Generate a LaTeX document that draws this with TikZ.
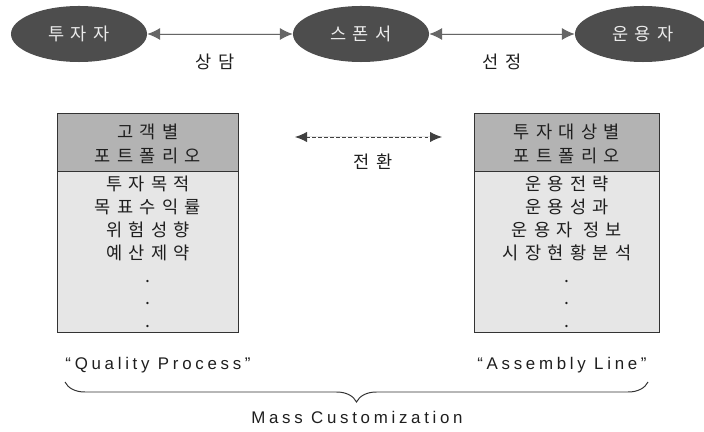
\documentclass[tikz,border=0pt]{standalone}
\usepackage{fontspec}
\setmainfont{Liberation Sans}
\newfontfamily\krfont{Noto Sans CJK KR}[LetterSpace=36]
\newfontfamily\latfont{Liberation Sans}[LetterSpace=22]
\usetikzlibrary{shapes.geometric,arrows.meta,decorations.pathreplacing}
\definecolor{darkfill}{HTML}{4D4D4D}
\definecolor{headfill}{HTML}{B3B3B3}
\definecolor{bodyfill}{HTML}{E6E6E6}
\definecolor{inkgray}{HTML}{1E1E1E}
\tikzstyle{party}=[ellipse,fill=darkfill,text=white!92!black,minimum width=3.4cm,minimum height=1.4cm,inner sep=0pt,font=\krfont\fontsize{12.5}{14}\selectfont]
\tikzstyle{link}=[{Latex[length=3.2mm,width=3mm]}-{Latex[length=3.2mm,width=3mm]},draw=black!60,fill=black!80,line width=0.7pt]
\tikzstyle{swap}=[{Latex[length=3mm,width=2.6mm]}-{Latex[length=3mm,width=2.6mm]},draw=black!75,fill=black!80,dash pattern=on 2.6pt off 1.6pt,line width=0.7pt]
\tikzstyle{label}=[text=inkgray,font=\krfont\fontsize{12.5}{14}\selectfont]
\tikzstyle{head}=[rectangle,draw=black!80,fill=headfill,line width=0.7pt,minimum height=1.5cm,align=center,text=inkgray,font=\krfont\fontsize{12.5}{17.5}\selectfont]
\tikzstyle{body}=[rectangle,draw=black!80,fill=bodyfill,line width=0.7pt,minimum height=3.9cm,align=center,text=inkgray,font=\krfont\fontsize{12.5}{16.3}\selectfont]
\tikzstyle{tag}=[text=inkgray,font=\latfont\fontsize{12}{13}\selectfont]

\begin{document}
\begin{tikzpicture}[x=0.025cm,y=-0.025cm]
                    \useasboundingbox (0,0) rectangle (704,432);

                    \node (inv) at (79,34) [party] {투자자};
                    \node (spon) at (361,34) [party] {스폰서};
                    \node (mgr) at (643,34) [party] {운용자};

                    \draw [link] (inv) -- (spon);
                    \draw [link] (spon) -- (mgr);
                    \node (talk) at (215,62) [label] {상담};
                    \node (pick) at (502,62) [label] {선정};

                    \node (lhead) at (148,144) [head,minimum width=4.5cm] {고객별\\포트폴리오};
                    \node (lbody) at (148,252) [body,minimum width=4.5cm] {투자목적\\목표수익률\\위험성향\\예산제약\\.\\.\\.};
                    \node (rhead) at (567,144) [head,minimum width=4.6cm] {투자대상별\\포트폴리오};
                    \node (rbody) at (567,252) [body,minimum width=4.6cm] {운용전략\\운용성과\\운용자 정보\\시장현황분석\\.\\.\\.};

                    \coordinate (sl) at (295,137);
                    \coordinate (sr) at (442,137);
                    \draw [swap] (sl) -- (sr);
                    \node (turn) at (373,162) [label] {전환};

                    \node (qp) at (158,365) [tag] {“Quality Process”};
                    \node (al) at (562,365) [tag] {“Assembly Line”};

                    \coordinate (bl) at (65,382);
                    \coordinate (br) at (648,382);
                    \draw [black!80,line width=0.7pt,decorate,decoration={brace,mirror,amplitude=0.5cm}] (bl) -- (br);
                    \node (mc) at (357,417) [tag] {Mass Customization};
                \end{tikzpicture}
\end{document}
